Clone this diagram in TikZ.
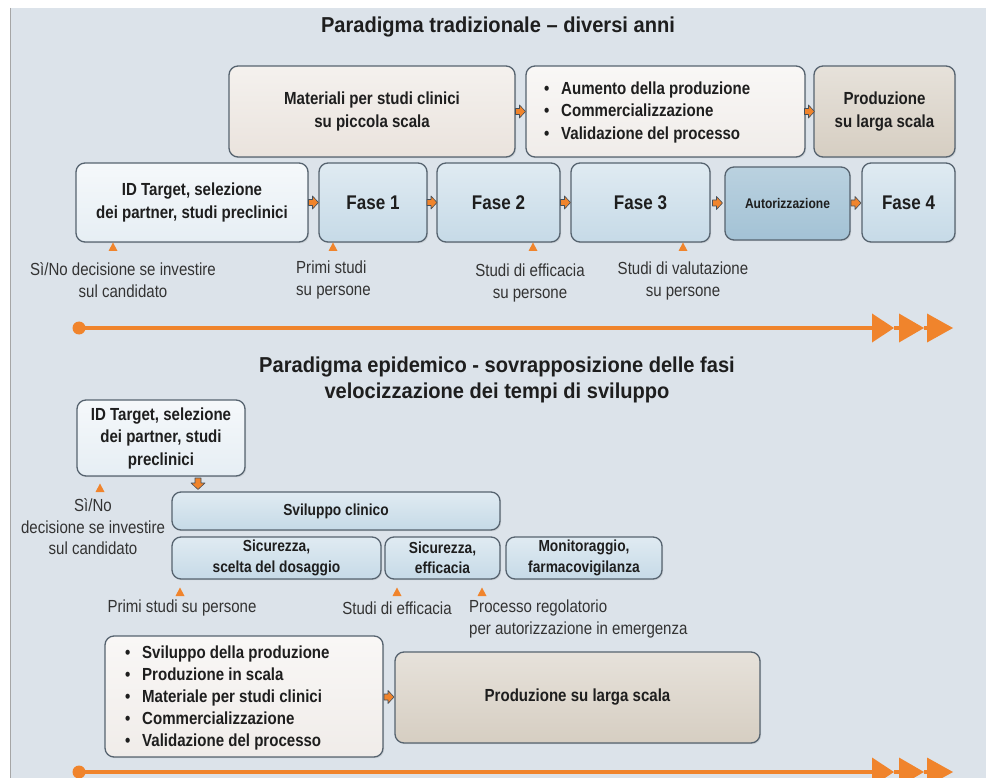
\documentclass[tikz,border=0pt]{standalone}
\usepackage{fontspec}
\setmainfont{Liberation Sans}[FakeStretch=0.86]
\newfontfamily\titlefont{Liberation Sans}[FakeStretch=0.93]
\usetikzlibrary{calc,shadows}
\definecolor{bgc}{HTML}{DCE3EA}
\definecolor{bordc}{HTML}{56636F}
\definecolor{beigeA}{HTML}{EAE3DD}
\definecolor{beigeB}{HTML}{F0ECE9}
\definecolor{tanc}{HTML}{D6CEC2}
\definecolor{idblue}{HTML}{E6EEF4}
\definecolor{fblue}{HTML}{C6DAE7}
\definecolor{ablue}{HTML}{A3C2D5}
\definecolor{orc}{HTML}{F0842C}
\definecolor{txc}{HTML}{1E1E1E}
\definecolor{annc}{HTML}{333333}
\newcommand{\fs}[2]{\fontsize{#1}{#2}\selectfont}
\newcommand{\bul}{\makebox[17pt][l]{\textbullet}}
\tikzset{
  box/.style={draw=bordc, line width=1.3pt, rounded corners=9pt, inner sep=0pt,
    align=center, text=txc, drop shadow={opacity=0.2, shadow xshift=1.2pt, shadow yshift=-1.2pt}},
  bluebox/.style={box, top color=fblue!55!white, bottom color=fblue},
  idbox/.style={box, top color=idblue!40!white, bottom color=idblue},
  autbox/.style={box, top color=ablue!75!white, bottom color=ablue},
  beigebox/.style={box, top color=beigeA!50!white, bottom color=beigeA},
  lightbox/.style={box, top color=beigeB!40!white, bottom color=beigeB},
  tanbox/.style={box, top color=tanc!60!white, bottom color=tanc},
  ann/.style={text=annc, font=\fs{17.5}{21.5}, inner sep=0pt},
  titl/.style={text=txc, font=\titlefont\bfseries\fs{21.6}{26}, align=center, inner sep=0pt},
  bt/.style={font=\bfseries\fs{17.5}{22.5}},
  ft/.style={font=\bfseries\fs{19.8}{22}},
  st/.style={font=\bfseries\fs{16}{20.5}},
  smallarr/.style={fill=orc, draw=bordc!80!black, line width=0.6pt, line join=round},
  marker/.style={fill=orc},
  tline/.style={draw=orc, line width=3.4pt}
}
\newcommand{\conarr}[2]{%
  \coordinate (m-#1-#2) at ($(#1.east)!0.5!(#2.west)$);
  \draw[smallarr] ($(m-#1-#2)+(-5,-3)$) -- ++(4,0) -- ++(0,-3.5) -- ++(6,6.5) -- ++(-6,6.5) -- ++(0,-3.5) -- ++(-4,0) -- cycle;}
\newcommand{\omark}[2]{\fill[marker] (#1-4.5,#2+4) -- (#1+4.5,#2+4) -- (#1,#2-4.5) -- cycle;}
\newcommand{\timeline}[1]{%
  \fill[orc] (79,#1) circle (6.5);
  \draw[tline] (79,#1) -- (874,#1);
  \fill[orc] (872,#1-14.5) -- (894,#1) -- (872,#1+14.5) -- cycle;
  \draw[tline] (894,#1) -- (900,#1);
  \fill[orc] (899,#1-14.5) -- (924,#1) -- (899,#1+14.5) -- cycle;
  \draw[tline] (924,#1) -- (929,#1);
  \fill[orc] (927,#1-14.5) -- (953,#1) -- (927,#1+14.5) -- cycle;}
\begin{document}
\begin{tikzpicture}[x=1pt,y=-1pt]
\useasboundingbox (0,0) rectangle (986,778);
\fill[white] (0,0) rectangle (986,778);
\fill[bgc] (10,8) rectangle (986,778);
\draw[draw=gray!70, line width=1pt] (10,8) -- (10,778);
\begin{scope}
\clip (0,0) rectangle (986,778);

% ---------- traditional ----------
\node[titl] (title1) at (498,27) {Paradigma tradizionale – diversi anni};

\node[beigebox, bt, minimum width=286, minimum height=91] (mat) at (372,111.5) {Materiali per studi clinici\\su piccola scala};
\node[lightbox, minimum width=279, minimum height=91] (aum) at (665.5,111.5) {};
\node[bt, anchor=west, align=left, text=txc, inner sep=0pt] (aumtxt) at (544,112)
  {\bul Aumento della produzione\\\bul Commercializzazione\\\bul Validazione del processo};
\node[tanbox, bt, minimum width=141, minimum height=91] (prod) at (884.5,111.5) {Produzione\\su larga scala};

\node[idbox, bt, minimum width=232, minimum height=79] (idt) at (192,202.5) {ID Target, selezione\\dei partner, studi preclinici};
\node[bluebox, ft, minimum width=108, minimum height=79] (f1) at (373,202.5) {Fase 1};
\node[bluebox, ft, minimum width=123, minimum height=79] (f2) at (498.5,202.5) {Fase 2};
\node[bluebox, ft, minimum width=139, minimum height=79] (f3) at (640.5,202.5) {Fase 3};
\node[autbox, font=\bfseries\fs{14}{16}, minimum width=125, minimum height=73] (aut) at (787.5,203.5) {Autorizzazione};
\node[bluebox, ft, minimum width=93, minimum height=79] (f4) at (908.5,202.5) {Fase 4};

\conarr{mat}{aum}
\conarr{aum}{prod}
\conarr{idt}{f1}
\conarr{f1}{f2}
\conarr{f2}{f3}
\conarr{f3}{aut}
\conarr{aut}{f4}

\omark{113}{247}
\omark{333}{247}
\omark{533}{247}
\omark{683}{247}
\node[ann, align=center] (l1) at (123,280) {Sì/No decisione se investire\\sul candidato};
\node[ann, align=left, anchor=west] (l2) at (296,280) {Primi studi\\su persone};
\node[ann, align=center] (l3) at (530,283) {Studi di efficacia\\su persone};
\node[ann, align=center] (l4) at (683,281) {Studi di valutazione\\su persone};

\timeline{328}

% ---------- epidemic ----------
\node[titl] (title2) at (497,380) {Paradigma epidemico - sovrapposizione delle fasi\\velocizzazione dei tempi di sviluppo};

\node[idbox, bt, minimum width=168, minimum height=76] (id2) at (161,438) {ID Target, selezione\\dei partner, studi\\preclinici};
\node[bluebox, st, minimum width=328, minimum height=38] (svil) at (336,511) {Sviluppo clinico};
\node[bluebox, st, minimum width=209, minimum height=42] (sic1) at (276.5,558) {Sicurezza,\\scelta del dosaggio};
\node[bluebox, st, minimum width=115, minimum height=42] (sic2) at (442.5,558) {Sicurezza,\\efficacia};
\node[bluebox, st, minimum width=156, minimum height=42] (mon) at (584,558) {Monitoraggio,\\farmacovigilanza};

\coordinate (dA) at (198,484);
\draw[smallarr] ($(dA)+(-3,-6)$) -- ++(6,0) -- ++(0,5) -- ++(4,0) -- ++(-7,6.5) -- ++(-7,-6.5) -- ++(4,0) -- cycle;

\omark{100}{488}
\node[ann, align=center] (l5) at (93,527) {Sì/No\\decisione se investire\\sul candidato};
\omark{180}{592}
\omark{397}{592}
\omark{482}{592}
\node[ann] (l6) at (182,608) {Primi studi su persone};
\node[ann] (l7) at (397,608) {Studi di efficacia};
\node[ann, align=left, anchor=west] (l8) at (469,619) {Processo regolatorio\\per autorizzazione in emergenza};

\node[lightbox, minimum width=278, minimum height=121] (bulbox) at (244,696.5) {};
\node[anchor=west, align=left, text=txc, inner sep=0pt, font=\bfseries\fs{17.5}{21.8}] (bultxt) at (125,698)
  {\bul Sviluppo della produzione\\\bul Produzione in scala\\\bul Materiale per studi clinici\\\bul Commercializzazione\\\bul Validazione del processo};
\node[tanbox, bt, minimum width=365, minimum height=91] (prod2) at (577.5,697.5) {Produzione su larga scala};
\conarr{bulbox}{prod2}

\timeline{772}
\end{scope}
\end{tikzpicture}
\end{document}
